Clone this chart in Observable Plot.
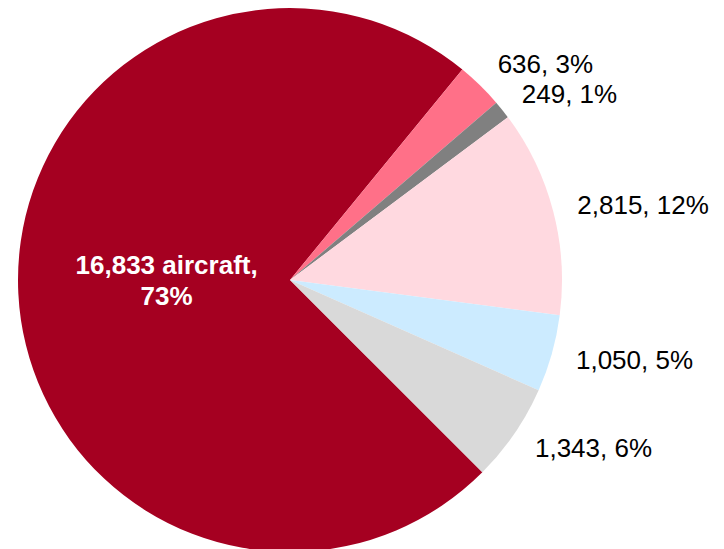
<!DOCTYPE html>
<html><head><meta charset="utf-8">
<script src="https://cdn.jsdelivr.net/npm/d3@7"></script>
<script src="https://cdn.jsdelivr.net/npm/@observablehq/plot@0.6"></script>
<style>html,body{margin:0;padding:0;background:#fff;} #chart svg{display:block;}</style>
</head><body><div id="chart"></div>
<script>
// Data
const sliceIds = ["s1", "s2", "s3", "s4", "s5", "s6"];
const values = [16833, 636, 249, 2815, 1050, 1343];
const colors = ["#A50021", "#FF7088", "#808080", "#FFD9E0", "#CCEBFF", "#D9D9D9"];
const unitSuffix = [" aircraft", "", "", "", "", ""];

const total = d3.sum(values);
const fmt = d3.format(",");
const data = values.map((v, i) => ({
  id: sliceIds[i], value: v, color: colors[i],
  pct: Math.round(v / total * 100), suffix: unitSuffix[i], inside: i === 0
}));
const start = 3 * Math.PI / 4;
const arcs = d3.pie().sort(null).value(d => d.value).startAngle(start).endAngle(start + 2 * Math.PI)(data);
arcs.forEach(a => { a.mid = (a.startAngle + a.endAngle) / 2; });

const outer = arcs.filter(a => !a.data.inside);
const inner = arcs.filter(a => a.data.inside);

// outer label anchors, with a simple overlap resolution (push upper label up)
const LR = 1.09, GAP = 30 / 272;
outer.forEach(a => { a.lx = Math.sin(a.mid) * LR; a.ly = Math.cos(a.mid) * LR; });
for (let i = outer.length - 2; i >= 0; i--) {
  if (outer[i].ly - outer[i + 1].ly < GAP) outer[i].ly = outer[i + 1].ly + GAP;
}

function pieMark(...args) {
  const scales = args.find(a => a && typeof a.x === "function" && typeof a.y === "function");
  const cx = scales.x(0), cy = scales.y(0);
  const r = scales.x(1) - scales.x(0);
  const arc = d3.arc().innerRadius(0).outerRadius(r);
  const g = d3.create("svg:g").attr("transform", `translate(${cx},${cy})`);
  g.selectAll("path").data(arcs).join("path")
    .attr("d", arc).attr("fill", d => d.data.color);
  return g.node();
}

const W = 724, H = 549, R = 272, CX = 290, CY = 280;
const chart = Plot.plot({
  width: W, height: H, margin: 0,
  style: { fontFamily: "'Liberation Sans', Arial, sans-serif", background: "#fff" },
  x: { domain: [-CX / R, (W - CX) / R], axis: null },
  y: { domain: [-(H - CY) / R, CY / R], axis: null },
  marks: [
    pieMark,
    Plot.text(outer, {
      x: "lx", y: "ly",
      text: d => `${fmt(d.data.value)}${d.data.suffix}, ${d.data.pct}%`,
      textAnchor: "start", lineAnchor: "middle", fontSize: 26, fill: "#000"
    }),
    Plot.text(inner, {
      x: d => Math.sin(d.mid) * 0.456, y: d => Math.cos(d.mid) * 0.456,
      text: d => `${fmt(d.data.value)}${d.data.suffix},\n${d.data.pct}%`,
      textAnchor: "middle", lineAnchor: "middle", lineHeight: 1.2, dy: -7,
      fontSize: 26, fontWeight: "bold", fill: "#fff"
    })
  ]
});
document.getElementById("chart").appendChild(chart);
</script>
</body></html>
